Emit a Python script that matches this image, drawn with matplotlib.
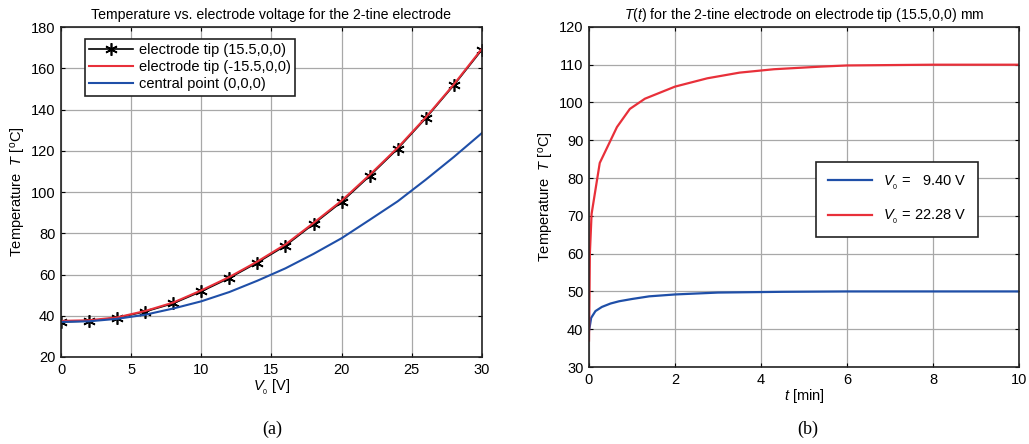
import matplotlib
matplotlib.use("Agg")
import matplotlib.pyplot as plt

plt.rcParams['font.family'] = ['Liberation Sans', 'DejaVu Sans']
plt.rcParams['mathtext.fontset'] = 'custom'
plt.rcParams['mathtext.rm'] = 'Liberation Sans'
plt.rcParams['mathtext.it'] = 'Liberation Sans:italic'

# (a) temperature vs voltage
v0 = [0, 2, 4, 6, 8, 10, 12, 14, 16, 18, 20, 22, 24, 26, 28, 30]
tip_pos = [37, 37.5, 39, 42, 46, 51.8, 58.3, 65.8, 74, 84.5, 95.2, 107.8, 121, 135.8, 151.8, 169]
tip_neg = [37.5, 37.8, 39.2, 42.3, 46.4, 52.3, 58.8, 66.3, 74.6, 85, 95.8, 108.3, 121.5, 136.2, 152.2, 169.5]
central = [37, 37.3, 38.5, 40.5, 43.5, 47, 51.5, 57, 63, 70, 77.6, 86.5, 95.5, 106, 117, 128.6]

# (b) temperature vs time
t_low = [0, 0.05, 0.15, 0.3, 0.5, 0.7, 1.0, 1.4, 2, 3, 4.5, 6, 8, 10]
T_low = [39.5, 43, 44.8, 45.9, 46.8, 47.4, 48.0, 48.7, 49.2, 49.7, 49.9, 50, 50, 50]
t_high = [0, 0.02, 0.06, 0.25, 0.65, 0.95, 1.3, 2, 2.75, 3.5, 4.3, 5.4, 6, 8, 10]
T_high = [37, 60, 70.5, 84, 93.5, 98.3, 101, 104.2, 106.4, 107.9, 108.8, 109.5, 109.8, 110, 110]

blue = '#1f4fa8'
red = '#e8303a'

fig = plt.figure(figsize=(10.29, 4.44), dpi=100)
ax1 = fig.add_axes([0.0593, 0.196, 0.409, 0.743])
ax2 = fig.add_axes([0.5724, 0.1734, 0.418, 0.766])

def style(ax):
    ax.grid(True, color='#a8a8a8', linewidth=0.9)
    ax.set_axisbelow(True)
    ax.tick_params(direction='in', top=True, right=True, labelsize=10.5, length=3, pad=4)
    for s in ax.spines.values():
        s.set_linewidth(1.2)
        s.set_color('#222222')

ax1.plot(v0, tip_pos, color='black', linewidth=1.2, marker=(6, 2, 0), markersize=9,
         markeredgewidth=1.2, label='electrode tip (15.5,0,0)')
ax1.plot(v0, tip_neg, color=red, linewidth=1.5, label='electrode tip (-15.5,0,0)')
ax1.plot(v0, central, color=blue, linewidth=1.5, label='central point (0,0,0)')
ax1.set_xlim(0, 30)
ax1.set_ylim(20, 180)
ax1.set_xticks(range(0, 31, 5))
ax1.set_yticks(range(20, 181, 20))
style(ax1)
ax1.set_title('Temperature vs. electrode voltage for the 2-tine electrode', fontsize=10.2, pad=6)
ax1.set_xlabel(r'$V_{_0}$ [V]', fontsize=10.5, labelpad=1)
ax1.set_ylabel(r'Temperature  $T$ [$^{\mathrm{o}}$C]', fontsize=10.5, labelpad=2)
leg1 = ax1.legend(loc='upper left', bbox_to_anchor=(0.057, 0.964), fontsize=10.5,
                  fancybox=False, framealpha=1, edgecolor='#222222', borderaxespad=0,
                  handlelength=3.0, borderpad=0.3, labelspacing=0.2, handletextpad=0.4)
leg1.get_frame().set_linewidth(1.2)

ax2.plot(t_low, T_low, color=blue, linewidth=1.6, label=r'$V_{_0}$ =   9.40 V')
ax2.plot(t_high, T_high, color=red, linewidth=1.6, label=r'$V_{_0}$ = 22.28 V')
ax2.set_xlim(0, 10)
ax2.set_ylim(30, 120)
ax2.set_xticks(range(0, 11, 2))
ax2.set_yticks(range(30, 121, 10))
style(ax2)
ax2.set_title(r'$T$($t$) for the 2-tine electrode on electrode tip (15.5,0,0) mm', fontsize=10.2, pad=6)
ax2.set_xlabel(r'$t$ [min]', fontsize=10.5, labelpad=0)
ax2.set_ylabel(r'Temperature  $T$ [$^{\mathrm{o}}$C]', fontsize=10.5, labelpad=2)
leg2 = ax2.legend(loc='upper left', bbox_to_anchor=(0.528, 0.603), fontsize=10.5,
                  fancybox=False, framealpha=1, edgecolor='#222222', borderaxespad=0,
                  handlelength=3.0, borderpad=0.8, labelspacing=1.1, handletextpad=0.8)
leg2.get_frame().set_linewidth(1.2)

fig.text(0.2646, 0.022, '(a)', family='Liberation Serif', fontsize=13, ha='center')
fig.text(0.785, 0.022, '(b)', family='Liberation Serif', fontsize=13, ha='center')

fig.savefig('out.png', dpi=100)
